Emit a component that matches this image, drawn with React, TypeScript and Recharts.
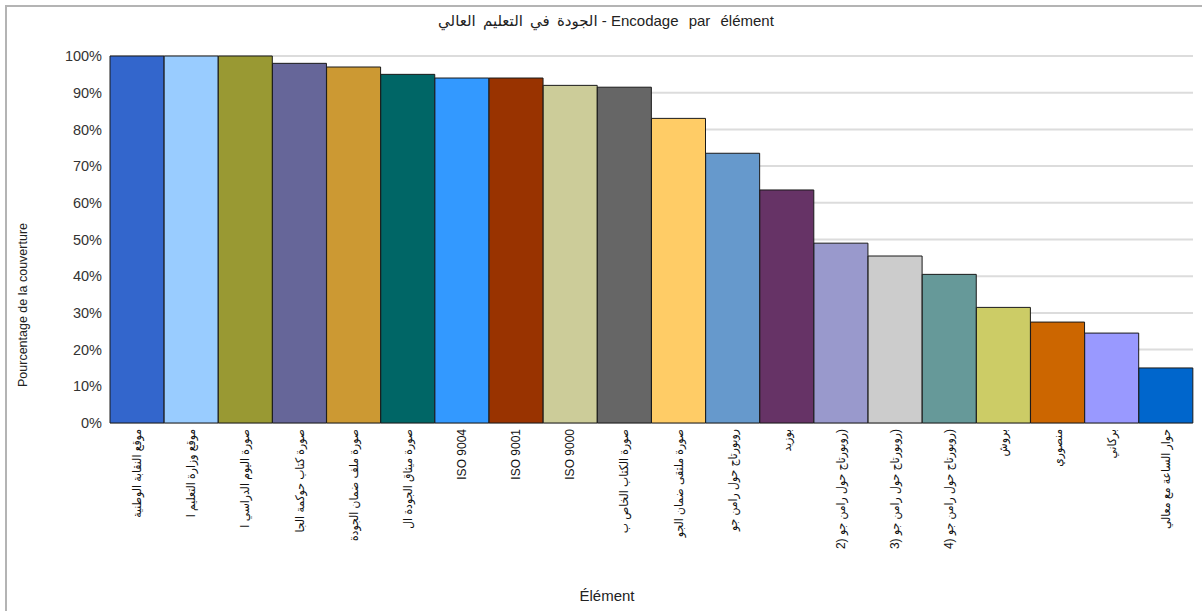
import React from 'react';
import { BarChart, Bar, XAxis, YAxis, CartesianGrid, Cell } from 'recharts';

// Coverage percentage per encoded element
const elements: string[] = [
  'موقع النقابة الوطنية',
  'موقع وزارة التعليم ا',
  'صورة اليوم الدراسي ا',
  'صورة كتاب حوكمة الجا',
  'صورة ملف ضمان الجودة',
  'صورة ميثاق الجودة ال',
  'ISO 9004',
  'ISO 9001',
  'ISO 9000',
  'صورة الكتاب الخاص ب',
  'صورة ملتقى ضمان الجو',
  'روبورتاج حول رامن جو',
  'بوزيد',
  '2) \u2067روبورتاج حول رامن جو\u2069)',
  '3) \u2067روبورتاج حول رامن جو\u2069)',
  '4) \u2067روبورتاج حول رامن جو\u2069)',
  'بروش',
  'منصوري',
  'بركاني',
  'حوار الساعة مع معالي',
];

const coverage: number[] = [
  100, 100, 100, 98, 97, 95, 94, 94, 92, 91.5, 83, 73.5, 63.5, 49, 45.5, 40.5, 31.5, 27.5, 24.5, 15,
];

const barColors: string[] = [
  '#3366CC', '#99CCFF', '#999933', '#666699', '#CC9933', '#006666', '#3399FF', '#993300',
  '#CCCC99', '#666666', '#FFCC66', '#6699CC', '#663366', '#9999CC', '#CCCCCC', '#669999',
  '#CCCC66', '#CC6600', '#9999FF', '#0066CC',
];

const yTicks: number[] = [0, 10, 20, 30, 40, 50, 60, 70, 80, 90, 100];

const titleArabic = 'الجودة في التعليم العالي';
const titleLatin = 'Encodage par élément';
const yTitle = 'Pourcentage de la couverture';
const xTitle = 'Élément';

const rows = elements.map((name, i) => ({ name, value: coverage[i] }));

const FONT = 'Arial, "Liberation Sans", "DejaVu Sans Condensed", "DejaVu Sans", sans-serif';
const TITLE_FONT = 'Arial, "Liberation Sans", "DejaVu Sans", sans-serif';

const VerticalTick = (props: any) => {
  const { x, y, payload } = props;
  const ty = y - 2;
  return (
    <text
      x={x}
      y={ty}
      transform={`rotate(-90, ${x}, ${ty})`}
      textAnchor="end"
      dominantBaseline="central"
      fontSize={12}
      fontFamily={FONT}
      fill="#111"
    >
      {payload.value}
    </text>
  );
};

export default function App() {
  return (
    <div
      style={{
        position: 'absolute',
        left: 0,
        top: 0,
        width: 1202,
        height: 611,
        background: '#fff',
        overflow: 'hidden',
        fontFamily: FONT,
      }}
    >
      <div
        style={{
          position: 'absolute',
          left: 5,
          top: 5,
          width: 1300,
          height: 700,
          borderTop: '2px solid #b4b4b4',
          borderLeft: '2px solid #b4b4b4',
        }}
      />
      <BarChart
        width={1202}
        height={611}
        data={rows}
        margin={{ top: 56, right: 9, bottom: 0, left: 0 }}
        barCategoryGap={0}
        barGap={0}
        style={{ position: 'absolute', left: 0, top: 0 }}
      >
        <CartesianGrid vertical={false} stroke="#dcdcdc" strokeWidth={2} />
        <XAxis
          dataKey="name"
          interval={0}
          axisLine={false}
          tickLine={false}
          height={188}
          tick={<VerticalTick />}
        />
        <YAxis
          domain={[0, 100]}
          ticks={yTicks}
          width={110}
          axisLine={false}
          tickLine={false}
          tickFormatter={(v: number) => `${v}%`}
          tick={{ fontSize: 14.5, fill: '#333', fontFamily: FONT }}
        />
        <Bar dataKey="value" isAnimationActive={false} stroke="#1a1a1a" strokeWidth={1}>
          {rows.map((r, i) => (
            <Cell key={r.name + i} fill={barColors[i]} />
          ))}
        </Bar>
      </BarChart>
      <div
        style={{
          position: 'absolute',
          left: 0,
          width: 1212,
          top: 12,
          textAlign: 'center',
          fontSize: 15,
          color: '#222',
          whiteSpace: 'nowrap',
          fontFamily: TITLE_FONT,
        }}
      >
        <span style={{ wordSpacing: 3 }}>{titleArabic}</span>
        <span> - </span>
        <span style={{ wordSpacing: 6 }}>{titleLatin}</span>
      </div>
      <div
        style={{
          position: 'absolute',
          left: 23,
          top: 305,
          transform: 'translate(-50%, -50%) rotate(-90deg)',
          fontSize: 12.5,
          color: '#222',
          whiteSpace: 'nowrap',
        }}
      >
        {yTitle}
      </div>
      <div
        style={{
          position: 'absolute',
          left: 607,
          top: 595,
          transform: 'translate(-50%, -50%)',
          fontSize: 15,
          color: '#222',
          whiteSpace: 'nowrap',
        }}
      >
        {xTitle}
      </div>
    </div>
  );
}
